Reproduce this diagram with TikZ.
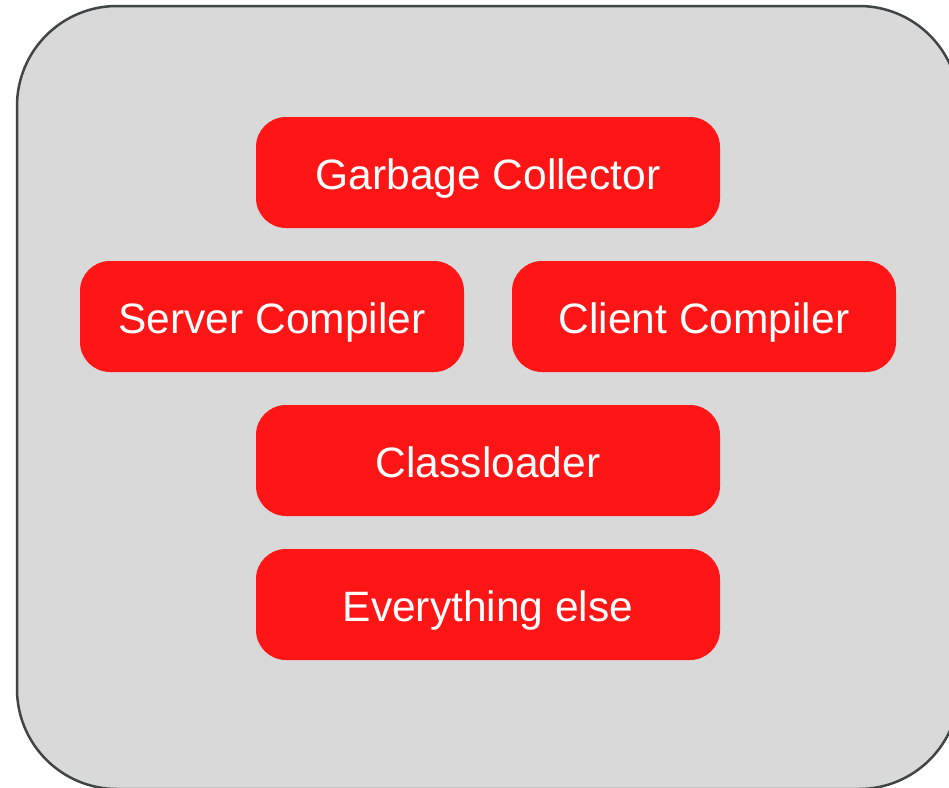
\documentclass[tikz,border=0pt]{standalone}
\usepackage{fontspec}
\setmainfont{Liberation Sans}
\definecolor{panelgray}{HTML}{D9D9D9}
\definecolor{edgegray}{HTML}{404545}
\definecolor{boxred}{HTML}{FE1616}
\begin{document}
\begin{tikzpicture}[x=1pt,y=-1pt,
  part/.style={fill=boxred, draw=none, rounded corners=30pt, text=white,
    font=\fontsize{42.5}{50}\selectfont, minimum height=111pt, inner sep=0pt,
    text height=40pt, text depth=7pt},
  wide/.style={part, minimum width=464pt},
  half/.style={part, minimum width=384pt}]
\useasboundingbox (0,0) rectangle (949,787);
\clip (0,0) rectangle (949,787);
\draw[fill=panelgray, draw=edgegray, line width=2.5pt, rounded corners=100pt] (17,6) rectangle (959,789);
\node[wide] (gc) at (488,172.5) {Garbage Collector};
\node[half] (server) at (272,316.5) {Server Compiler};
\node[half] (client) at (704,316.5) {Client Compiler};
\node[wide] (cl) at (488,460.5) {Classloader};
\node[wide] (else) at (488,604.5) {Everything else};
\end{tikzpicture}
\end{document}
